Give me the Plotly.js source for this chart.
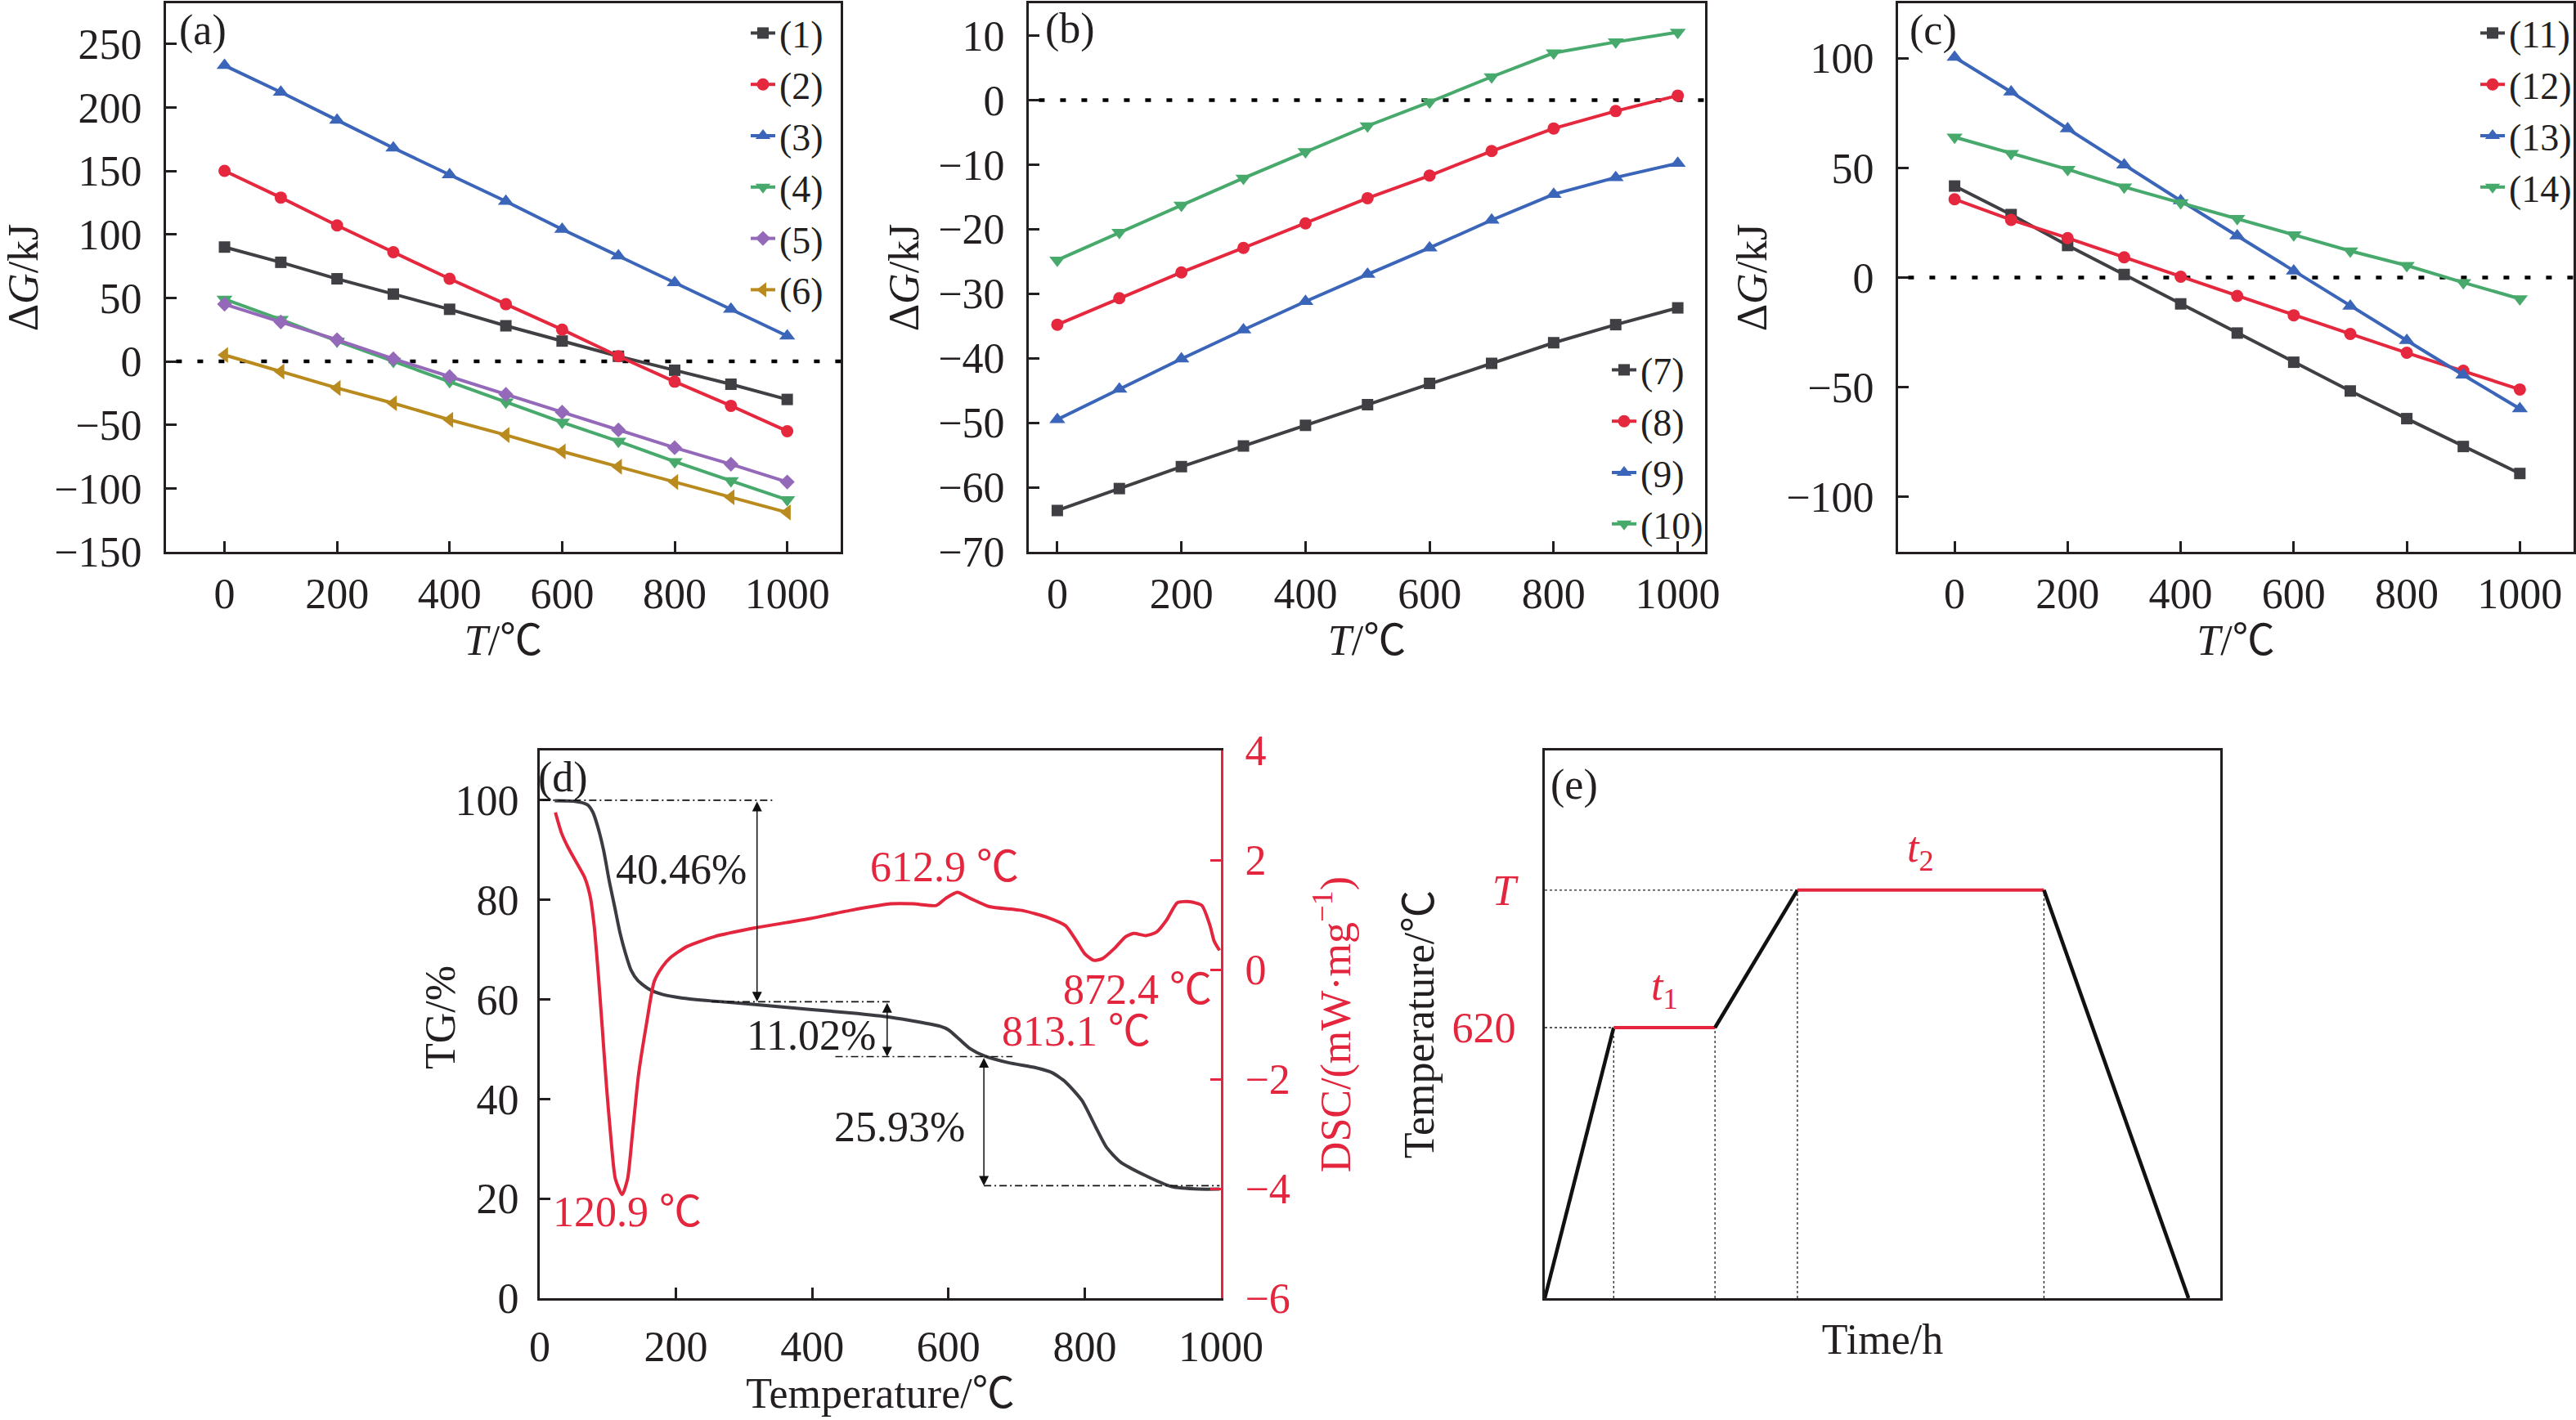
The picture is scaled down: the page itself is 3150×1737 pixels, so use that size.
<!DOCTYPE html>
<html>
<head>
<meta charset="utf-8">
<script src="https://cdn.plot.ly/plotly-3.0.1.min.js"></script>
<style>
  html, body { margin: 0; padding: 0; background: #ffffff; }
  #chart { width: 3150px; height: 1737px; }
</style>
</head>
<body>
<div id="chart"></div>
<script>
// ---------- data ----------
// temperatures at which the Gibbs free energy change was evaluated (℃)
const tempC = [0, 100, 200, 300, 400, 500, 600, 700, 800, 900, 1000];

// ΔG (kJ), reactions (1)–(6)
const dG1 = [90, 78, 65, 53, 41, 28, 16, 4, -7, -18, -30];
const dG2 = [150, 129, 107, 86, 65, 45, 25, 4, -16, -35, -55];
const dG3 = [233, 212, 190, 168, 147, 126, 104, 83, 62, 41, 20];
const dG4 = [49, 33, 16, 0, -16, -32, -48, -63, -79, -94, -109];
const dG5 = [45, 31, 17, 2, -12, -26, -40, -54, -68, -81, -95];
const dG6 = [5, -8, -21, -33, -46, -58, -71, -83, -95, -107, -119];

// ΔG (kJ), reactions (7)–(10)
const dG7 = [-63.6, -60.2, -56.8, -53.6, -50.4, -47.2, -43.9, -40.8, -37.6, -34.8, -32.2];
const dG8 = [-34.8, -30.7, -26.7, -22.9, -19.1, -15.2, -11.7, -7.9, -4.4, -1.7, 0.7];
const dG9 = [-49.5, -44.8, -40.1, -35.6, -31.2, -27.0, -22.9, -18.6, -14.6, -12.0, -9.8];
const dG10 = [-24.8, -20.5, -16.3, -12.1, -8.0, -4.0, -0.3, 3.6, 7.3, 9.0, 10.5];

// ΔG (kJ), reactions (11)–(14)
const dG11 = [41.7, 28.7, 14.6, 1.4, -12.0, -25.3, -38.6, -51.7, -64.3, -77.0, -89.3];
const dG12 = [35.7, 26.3, 18.0, 9.2, 0.4, -8.4, -17.2, -25.7, -34.3, -42.5, -51.0];
const dG13 = [100.4, 84.6, 67.8, 51.3, 35.0, 19.0, 3.0, -13.0, -28.7, -44.4, -59.8];
const dG14 = [64.0, 56.5, 49.3, 41.3, 34.1, 26.9, 19.5, 12.1, 5.5, -2.3, -9.7];

// thermogravimetric curve: temperature (℃) and remaining mass (%)
const tgTemp = [22, 50, 70, 78, 86, 94, 102, 110, 118, 126, 134, 144, 160, 180, 208, 252, 316, 396, 456,
                516, 588, 600, 616, 632, 652, 688, 728, 752, 772, 796, 816, 832, 852, 888, 928, 968, 998];
const tgMass = [99.9, 99.8, 99.1, 97.6, 94.3, 89.8, 83.8, 78.6, 73.3, 69.2, 65.9, 63.8, 62.1, 61.0, 60.3, 59.7, 59.0, 58.0, 57.3,
                56.4, 54.6, 53.9, 52.0, 50.1, 48.7, 47.3, 46.3, 45.3, 43.4, 39.7, 34.4, 30.3, 27.4, 24.7, 22.4, 21.9, 21.9];

// DSC curve: temperature (℃) and heat flow (mW·mg⁻¹)
const dscTemp = [23, 32, 42, 56, 66, 74, 80, 86, 92, 98, 104, 111, 121, 129, 136, 145, 157, 168, 180, 192, 216, 256,
                 316, 396, 456, 516, 548, 582, 596, 613, 632, 660, 708, 748, 772, 788, 800, 813, 826, 844, 860, 872,
                 890, 905, 920, 936, 954, 972, 984, 990, 998];
const dscFlow = [2.87, 2.49, 2.22, 1.91, 1.68, 1.34, 0.79, -0.09, -1.10, -2.13, -3.01, -3.82, -4.11, -3.82, -3.01, -1.92, -0.97, -0.22, 0.05, 0.22, 0.42, 0.60,
                 0.76, 0.93, 1.08, 1.20, 1.20, 1.17, 1.30, 1.41, 1.30, 1.15, 1.08, 0.94, 0.80, 0.52, 0.29, 0.17, 0.20, 0.39, 0.60, 0.66,
                 0.62, 0.68, 0.90, 1.22, 1.24, 1.17, 0.80, 0.52, 0.35];

// mass-loss steps (%) and DSC peak temperatures (℃)
const massLoss = [40.46, 11.02, 25.93];
const dscPeaks = [120.9, 612.9, 813.1, 872.4];

// heat-treatment schedule (arbitrary time units, ℃); the second hold is the variable temperature T
const profileTime = [0, 10.2, 25.2, 37.4, 73.9, 95.3];
const profileTemp = [0, 620, 620, 935, 935, 0];
const profileTickText = ['620', '<i>T</i>'];

// ---------- styling ----------
const FONT = '"Liberation Serif", "Times New Roman", "Noto Sans CJK SC", serif';
const INK = '#231f20';
const RED = '#e3263d';
const C = { black: '#404044', red: '#e5283e', blue: '#3a65b9', green: '#47a96b', purple: '#9569b9', gold: '#b98b1e' };
const FS = 52;

function series(x, y, name, color, symbol, size, xa, ya, legend) {
  return {
    type: 'scatter', mode: 'lines+markers', x: x, y: y, name: name,
    xaxis: xa, yaxis: ya, legend: legend,
    line: { color: color, width: 4 },
    marker: { color: color, symbol: symbol, size: size, line: { width: 0 } }
  };
}

const traces = [
  series(tempC, dG1, '(1)', C.black, 'square', 14, 'x', 'y', 'legend'),
  series(tempC, dG2, '(2)', C.red, 'circle', 15, 'x', 'y', 'legend'),
  series(tempC, dG3, '(3)', C.blue, 'triangle-up', 17, 'x', 'y', 'legend'),
  series(tempC, dG4, '(4)', C.green, 'triangle-down', 17, 'x', 'y', 'legend'),
  series(tempC, dG5, '(5)', C.purple, 'diamond', 14, 'x', 'y', 'legend'),
  series(tempC, dG6, '(6)', C.gold, 'triangle-left', 17, 'x', 'y', 'legend'),

  series(tempC, dG7, '(7)', C.black, 'square', 14, 'x2', 'y2', 'legend2'),
  series(tempC, dG8, '(8)', C.red, 'circle', 15, 'x2', 'y2', 'legend2'),
  series(tempC, dG9, '(9)', C.blue, 'triangle-up', 17, 'x2', 'y2', 'legend2'),
  series(tempC, dG10, '(10)', C.green, 'triangle-down', 17, 'x2', 'y2', 'legend2'),

  series(tempC, dG11, '(11)', C.black, 'square', 14, 'x3', 'y3', 'legend3'),
  series(tempC, dG12, '(12)', C.red, 'circle', 15, 'x3', 'y3', 'legend3'),
  series(tempC, dG13, '(13)', C.blue, 'triangle-up', 17, 'x3', 'y3', 'legend3'),
  series(tempC, dG14, '(14)', C.green, 'triangle-down', 17, 'x3', 'y3', 'legend3'),

  { type: 'scatter', mode: 'lines', x: tgTemp, y: tgMass, xaxis: 'x4', yaxis: 'y4', showlegend: false,
    line: { color: '#3b3c42', width: 4, shape: 'spline', smoothing: 0.6 } },
  { type: 'scatter', mode: 'lines', x: dscTemp, y: dscFlow, xaxis: 'x4', yaxis: 'y5', showlegend: false,
    line: { color: RED, width: 4, shape: 'spline', smoothing: 0.6 } }
];

// heat-treatment schedule: ramps in black, isothermal holds in red
for (let i = 0; i < profileTime.length - 1; i++) {
  const hold = profileTemp[i] === profileTemp[i + 1] && profileTemp[i] > 0;
  traces.push({
    type: 'scatter', mode: 'lines', xaxis: 'x5', yaxis: 'y6', showlegend: false,
    x: profileTime.slice(i, i + 2), y: profileTemp.slice(i, i + 2),
    line: { color: hold ? RED : '#111111', width: hold ? 4 : 4.5 }
  });
}

function ax(extra) {
  return Object.assign({
    showline: true, linecolor: INK, linewidth: 3, mirror: true,
    ticks: 'inside', ticklen: 13, tickwidth: 3, tickcolor: INK,
    showgrid: false, zeroline: false, automargin: false,
    tickfont: { family: FONT, size: FS, color: INK }, ticklabelstandoff: 16,
    fixedrange: true
  }, extra);
}
function ttl(text, standoff, color) {
  return { text: text, standoff: standoff, font: { family: FONT, size: FS, color: color || INK } };
}

const W = 3150, H = 1737;
const dx = (a, b) => [a / W, b / W];
const dy = (top, bottom) => [1 - bottom / H, 1 - top / H];

const shapes = [];
const annotations = [];

// dotted ΔG = 0 reference in panels (a)–(c)
[['x', 'y'], ['x2', 'y2'], ['x3', 'y3']].forEach(([xa, ya]) => {
  shapes.push({ type: 'line', xref: xa + ' domain', yref: ya, x0: 0.015, x1: 1, y0: 0, y1: 0, layer: 'below',
                line: { color: '#000000', width: 4.5, dash: '7px,19px' } });
});

// mass-loss guides and arrows in panel (d)
const lossLevels = [100];
massLoss.forEach(v => lossLevels.push(+(lossLevels[lossLevels.length - 1] - v).toFixed(2)));
const guideSpans = [[4, 346], [252, 516], [434, 694], [652, 998]];
guideSpans.forEach((s, i) => {
  shapes.push({ type: 'line', xref: 'x4', yref: 'y4', x0: s[0], x1: s[1], y0: lossLevels[i], y1: lossLevels[i],
                line: { color: '#111111', width: 1.6, dash: '9px,4px,2px,4px' } });
});
const arrowX = [319, 510, 652];
arrowX.forEach((x, i) => {
  annotations.push({ xref: 'x4', yref: 'y4', axref: 'x4', ayref: 'y4', x: x, y: lossLevels[i + 1], ax: x, ay: lossLevels[i],
                     text: '', showarrow: true, arrowside: 'end+start', arrowhead: 2, startarrowhead: 2,
                     arrowsize: 1.6, startarrowsize: 1.6, arrowwidth: 1.5, arrowcolor: '#111111' });
});
const lossLabelPos = [[208, 86.1], [399, 52.8], [528, 34.4]];
massLoss.forEach((v, i) => {
  annotations.push({ xref: 'x4', yref: 'y4', x: lossLabelPos[i][0], y: lossLabelPos[i][1], text: v.toFixed(2) + '%',
                     showarrow: false, font: { family: FONT, size: FS, color: INK } });
});
const peakLabelPos = [[129, -4.43], [594, 1.88], [788, -1.12], [877, -0.37]];
dscPeaks.forEach((v, i) => {
  annotations.push({ xref: 'x4', yref: 'y5', x: peakLabelPos[i][0], y: peakLabelPos[i][1], text: v.toFixed(1) + ' ℃',
                     showarrow: false, font: { family: FONT, size: FS, color: RED } });
});

// dotted guides in panel (e)
[1, 3].forEach(i => {
  shapes.push({ type: 'line', xref: 'x5', yref: 'y6', x0: 0, x1: profileTime[i], y0: profileTemp[i], y1: profileTemp[i],
                line: { color: '#222222', width: 1.3, dash: 'dot' } });
});
[1, 2, 3, 4].forEach(i => {
  shapes.push({ type: 'line', xref: 'x5', yref: 'y6', x0: profileTime[i], x1: profileTime[i], y0: 0, y1: profileTemp[i],
                line: { color: '#222222', width: 1.3, dash: 'dot' }, layer: 'below' });
});
// hold-time labels
annotations.push({ xref: 'x5', yref: 'y6', x: (profileTime[1] + profileTime[2]) / 2, y: profileTemp[1], yshift: 48,
                   text: '<i>t</i><sub>1</sub>', showarrow: false, font: { family: FONT, size: FS, color: RED } });
annotations.push({ xref: 'x5', yref: 'y6', x: (profileTime[3] + profileTime[4]) / 2, y: profileTemp[3], yshift: 48,
                   text: '<i>t</i><sub>2</sub>', showarrow: false, font: { family: FONT, size: FS, color: RED } });

// panel letters
[['(a)', 248, 37], ['(b)', 1308, 35], ['(c)', 2364, 37], ['(d)', 688, 951], ['(e)', 1925, 960]].forEach(([t, px, py]) => {
  annotations.push({ xref: 'paper', yref: 'paper', x: px / W, y: 1 - py / H, text: t, showarrow: false,
                     xanchor: 'center', yanchor: 'middle', font: { family: FONT, size: FS, color: INK } });
});

// left title of the thermal-analysis panel, set close to its tick labels
annotations.push({ xref: 'paper', yref: 'paper', x: 538 / W, y: 1 - 1245 / H, text: 'TG/%', textangle: -90,
                   showarrow: false, xanchor: 'center', yanchor: 'middle', font: { family: FONT, size: FS, color: INK } });

const legendBase = { bgcolor: 'rgba(0,0,0,0)', borderwidth: 0, font: { family: FONT, size: 46, color: INK },
                     tracegroupgap: 0, itemwidth: 30 };

const layout = {
  width: W, height: H,
  margin: { l: 0, r: 0, t: 0, b: 0, pad: 0 },
  paper_bgcolor: '#ffffff', plot_bgcolor: 'rgba(0,0,0,0)',
  font: { family: FONT, size: FS, color: INK },
  showlegend: true,

  xaxis: ax({ domain: dx(203, 1028), range: [-104, 1095], tick0: 0, dtick: 200, anchor: 'y', ticklabelstandoff: 4,
              title: ttl('<i>T</i>/℃', 8) }),
  yaxis: ax({ domain: dy(4, 675), range: [-150, 282], tick0: 0, dtick: 50, anchor: 'x',
              title: ttl('Δ<i>G</i>/kJ', 8) }),

  xaxis2: ax({ domain: dx(1258, 2085), range: [-46, 1044], tick0: 0, dtick: 200, anchor: 'y2', ticklabelstandoff: 4,
               title: ttl('<i>T</i>/℃', 8) }),
  yaxis2: ax({ domain: dy(4, 675), range: [-70, 15], tick0: 0, dtick: 10, anchor: 'x2',
               title: ttl('Δ<i>G</i>/kJ', 8) }),

  xaxis3: ax({ domain: dx(2321, 3147), range: [-100, 1095], tick0: 0, dtick: 200, anchor: 'y3', ticklabelstandoff: 4,
               title: ttl('<i>T</i>/℃', 8) }),
  yaxis3: ax({ domain: dy(4, 675), range: [-125, 125], tick0: 0, dtick: 50, anchor: 'x3',
               title: ttl('Δ<i>G</i>/kJ', 8) }),

  xaxis4: ax({ domain: dx(660, 1493), range: [0, 1000], tick0: 0, dtick: 200, anchor: 'y4', ticklabelstandoff: 12,
               title: ttl('Temperature/℃', 4) }),
  yaxis4: ax({ domain: dy(918, 1588), range: [0, 110], tick0: 0, dtick: 20, anchor: 'x4', mirror: false,
               ticklabelstandoff: 12 }),
  yaxis5: ax({ domain: dy(918, 1588), range: [-6, 4], tick0: 0, dtick: 2, anchor: 'x4', overlaying: 'y4', side: 'right',
               mirror: false, linecolor: RED, tickcolor: RED, tickfont: { family: FONT, size: FS, color: RED },
               title: ttl('DSC/(mW·mg<sup>−1</sup>)', 38, RED) }),

  xaxis5: ax({ domain: dx(1889, 2715), range: [0, 100], anchor: 'y6', ticks: '', showticklabels: false,
               title: ttl('Time/h', 30) }),
  yaxis6: ax({ domain: dy(918, 1588), range: [0, 1255], anchor: 'x5', ticks: '',
               tickvals: [profileTemp[1], profileTemp[3]], ticktext: profileTickText,
               tickfont: { family: FONT, size: FS, color: RED }, ticklabelstandoff: 22,
               title: ttl('Temperature/℃', 6) }),

  legend: Object.assign({}, legendBase, { x: 1012 / W, xanchor: 'right', y: 1 - 4 / H, yanchor: 'top' }),
  legend2: Object.assign({}, legendBase, { x: 2088 / W, xanchor: 'right', y: 1 - 678 / H, yanchor: 'bottom' }),
  legend3: Object.assign({}, legendBase, { x: 3150 / W, xanchor: 'right', y: 1 - 4 / H, yanchor: 'top' }),

  shapes: shapes,
  annotations: annotations
};

Plotly.newPlot('chart', traces, layout, { staticPlot: true, displayModeBar: false });
</script>
</body>
</html>
